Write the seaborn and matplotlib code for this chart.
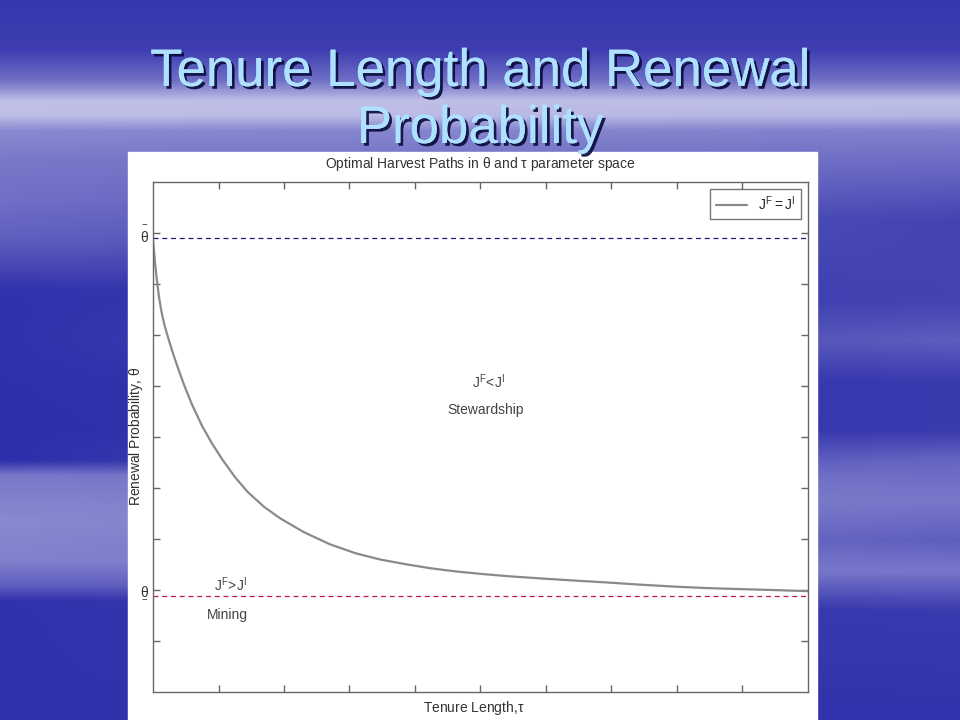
import numpy as np
import pandas as pd
import seaborn as sns
import matplotlib.pyplot as plt
import matplotlib.patheffects as pe
from matplotlib.patches import Rectangle

tenure = [0, 0.03, 0.06, 0.09, 0.12, 0.15, 0.18, 0.22, 0.27, 0.33, 0.40, 0.48,
          0.52, 0.60, 0.75, 0.9, 1.05, 1.25, 1.45, 1.7, 1.94, 2.3, 2.7, 3.1,
          3.47, 3.85, 4.23, 4.6, 4.99, 5.45, 5.91, 6.4, 6.93, 7.4, 7.94, 8.45,
          8.96, 9.5, 10.0]
renewal = [0.886, 0.843, 0.806, 0.776, 0.752, 0.733, 0.717, 0.699, 0.678, 0.654,
           0.628, 0.600, 0.587, 0.562, 0.521, 0.487, 0.457, 0.421, 0.391, 0.362,
           0.340, 0.313, 0.289, 0.271, 0.259, 0.250, 0.242, 0.236, 0.231, 0.226,
           0.222, 0.218, 0.214, 0.210, 0.206, 0.203, 0.201, 0.199, 0.197]
theta_upper = 0.89
theta_lower = 0.188
ytick_pos = np.round(np.arange(0.1, 1.0, 0.1), 1)
ytick_lab = {0.2: r'$\underset{-}{\theta}$', 0.9: r'$\overset{-}{\theta}$'}

sns.set_style('white')
plt.rcParams['font.family'] = ['Liberation Sans', 'DejaVu Sans']
plt.rcParams['mathtext.default'] = 'regular'

fig = plt.figure(figsize=(9.6, 7.2), dpi=100)

# slide background: blue with lighter cloud bands
bg = fig.add_axes([0, 0, 1, 1], zorder=0)
yy = np.arange(720)
left_y = [0, 50, 80, 100, 115, 130, 160, 200, 240, 270, 290, 460, 475, 520, 560, 585, 600, 720]
left_v = [0.08, 0.12, 0.4, 0.85, 0.85, 0.55, 0.45, 0.4, 0.3, 0.15, 0.05, 0.03, 0.45, 0.55, 0.5, 0.3, 0.05, 0.05]
right_y = [0, 50, 80, 100, 115, 130, 170, 220, 300, 340, 380, 430, 460, 500, 540, 570, 610, 720]
right_v = [0.08, 0.12, 0.4, 0.85, 0.8, 0.5, 0.35, 0.15, 0.15, 0.3, 0.1, 0.1, 0.35, 0.45, 0.3, 0.45, 0.1, 0.05]
pl = np.interp(yy, left_y, left_v)
pr = np.interp(yy, right_y, right_v)
t = np.linspace(0, 1, 960)[None, :]
light = pl[:, None] * (1 - t) + pr[:, None] * t
dark = np.array([0.16, 0.16, 0.66])
pale = np.array([0.85, 0.85, 0.95])
img = dark[None, None, :] * (1 - light[..., None]) + pale[None, None, :] * light[..., None]
bg.imshow(img, aspect='auto', extent=(0, 960, 720, 0))
bg.add_patch(Rectangle((128, 152), 689, 568, color='white'))
bg.set_xlim(0, 960)
bg.set_ylim(720, 0)
bg.axis('off')

shadow = [pe.withSimplePatchShadow(offset=(2, -2), shadow_rgbFace='#0a0a3a', alpha=0.9), pe.Normal()]
for txt, ypix in [('Tenure Length and Renewal', 86), ('Probability', 143)]:
    fig.text(0.5, 1 - ypix / 720, txt, ha='center', va='baseline', fontsize=38,
             color='#aee0ff', path_effects=shadow)

# chart
ax = fig.add_axes([153 / 960, 28.5 / 720, 655 / 960, 509.5 / 720], zorder=2)
ax.set_facecolor('white')
df = pd.DataFrame({'tenure': tenure, 'renewal': renewal})
sns.lineplot(data=df, x='tenure', y='renewal', ax=ax, color='#8a8a8a', lw=1.6,
             label=r'$J^F = J^I$')
ax.axhline(theta_upper, color='#1a1a80', lw=0.9, ls=(0, (4, 3)))
ax.axhline(theta_lower, color='#c0184a', lw=0.9, ls=(0, (4, 3)))

ax.set_xlim(0, 10)
ax.set_ylim(0, 1)
ax.set_xticks(np.arange(1, 10))
ax.set_xticklabels([])
ax.set_yticks(ytick_pos)
ax.set_yticklabels([ytick_lab.get(v, '') for v in ytick_pos], fontsize=10, color='#333333')
ax.tick_params(direction='in', length=5, width=1, color='#666666', pad=3,
               top=True, right=True, left=True, bottom=True)
for s in ax.spines.values():
    s.set_color('#666666')
    s.set_linewidth(1)

ax.set_title(r'Optimal Harvest Paths in $\theta$ and $\tau$ parameter space',
             fontsize=10, color='#333333', pad=10)
ax.set_xlabel(r'Tenure Length,$\tau$', fontsize=10, color='#333333')
ax.xaxis.set_label_coords(0.49, -0.014)
ax.set_ylabel(r'Renewal Probability, $\theta$', fontsize=10, color='#333333')
ax.yaxis.set_label_coords(-0.012, 0.5)

ax.text(5.13, 0.608, r'$J^F\!<\!J^I$', fontsize=10, color='#444444', ha='center', va='center')
ax.text(5.07, 0.553, 'Stewardship', fontsize=10, color='#444444', ha='center', va='center')
ax.text(1.18, 0.21, r'$J^F\!>\!J^I$', fontsize=10, color='#444444', ha='center', va='center')
ax.text(1.13, 0.15, 'Mining', fontsize=10, color='#444444', ha='center', va='center')

leg = ax.legend(loc='upper right', fontsize=10, frameon=True, fancybox=False,
                handlelength=2.2, borderaxespad=0.5)
leg.get_frame().set_edgecolor('#555555')
leg.get_frame().set_linewidth(1)

fig.savefig('out.png', dpi=100)
